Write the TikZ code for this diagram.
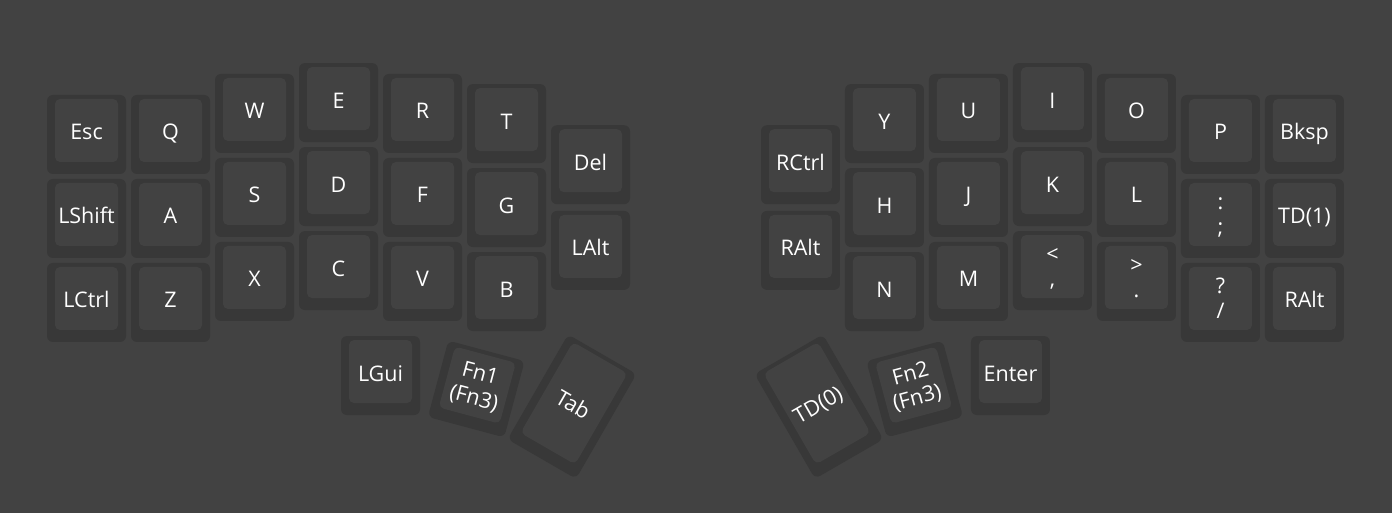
\documentclass[tikz,border=0pt]{standalone}
\usepackage{fontspec}
\setmainfont{Open Sans}
\usetikzlibrary{calc}

\definecolor{board}{HTML}{424242}
\definecolor{keyside}{HTML}{383838}
\definecolor{keytop}{HTML}{424242}

\begin{document}
\begin{tikzpicture}[x=84pt,y=-84pt,
  keybase/.style={fill=keyside,rounded corners=6pt,minimum width=79pt,minimum height=79pt,inner sep=0pt},
  keyface/.style={fill=keytop,rounded corners=5pt,minimum width=63pt,minimum height=63pt,inner sep=0pt,
    text=white,align=center,font=\fontsize{21.5}{25}\selectfont,text height=19pt,text depth=0pt},
  twoline/.style={text height=44pt,text depth=4pt},
  tallbase/.style={minimum height=121pt},
  tallface/.style={minimum height=105pt}]
\useasboundingbox[fill=board] (-0.53,-1.101) rectangle (16.042,5.006);
% left half
\node[keybase] (esc) at (0.5,0.5) {};
\node[keybase] (lshift) at (0.5,1.5) {};
\node[keybase] (lctrl) at (0.5,2.5) {};
\node[keybase] (q) at (1.5,0.5) {};
\node[keybase] (a) at (1.5,1.5) {};
\node[keybase] (z) at (1.5,2.5) {};
\node[keybase] (w) at (2.5,0.25) {};
\node[keybase] (s) at (2.5,1.25) {};
\node[keybase] (x) at (2.5,2.25) {};
\node[keybase] (e) at (3.5,0.12) {};
\node[keybase] (d) at (3.5,1.12) {};
\node[keybase] (c) at (3.5,2.12) {};
\node[keybase] (r) at (4.5,0.25) {};
\node[keybase] (f) at (4.5,1.25) {};
\node[keybase] (v) at (4.5,2.25) {};
\node[keybase] (t) at (5.5,0.37) {};
\node[keybase] (g) at (5.5,1.37) {};
\node[keybase] (b) at (5.5,2.37) {};
\node[keybase] (del) at (6.5,0.86) {};
\node[keybase] (lalt) at (6.5,1.88) {};
\node[keybase] (lgui) at (4,3.37) {};
\node[keybase,rotate=-15] (fn1) at (5.14,3.53) {};
\node[keybase,tallbase,rotate=-30] (tab) at (6.28,3.74) {};
\node[keyface] (esct) at ($(esc.center)!4pt!(esc.north)$) {Esc};
\node[keyface] (lshiftt) at ($(lshift.center)!4pt!(lshift.north)$) {LShift};
\node[keyface] (lctrlt) at ($(lctrl.center)!4pt!(lctrl.north)$) {LCtrl};
\node[keyface] (qt) at ($(q.center)!4pt!(q.north)$) {Q};
\node[keyface] (at) at ($(a.center)!4pt!(a.north)$) {A};
\node[keyface] (zt) at ($(z.center)!4pt!(z.north)$) {Z};
\node[keyface] (wt) at ($(w.center)!4pt!(w.north)$) {W};
\node[keyface] (st) at ($(s.center)!4pt!(s.north)$) {S};
\node[keyface] (xt) at ($(x.center)!4pt!(x.north)$) {X};
\node[keyface] (et) at ($(e.center)!4pt!(e.north)$) {E};
\node[keyface] (dt) at ($(d.center)!4pt!(d.north)$) {D};
\node[keyface] (ct) at ($(c.center)!4pt!(c.north)$) {C};
\node[keyface] (rt) at ($(r.center)!4pt!(r.north)$) {R};
\node[keyface] (ft) at ($(f.center)!4pt!(f.north)$) {F};
\node[keyface] (vt) at ($(v.center)!4pt!(v.north)$) {V};
\node[keyface] (tt) at ($(t.center)!4pt!(t.north)$) {T};
\node[keyface] (gt) at ($(g.center)!4pt!(g.north)$) {G};
\node[keyface] (bt) at ($(b.center)!4pt!(b.north)$) {B};
\node[keyface] (delt) at ($(del.center)!4pt!(del.north)$) {Del};
\node[keyface] (laltt) at ($(lalt.center)!4pt!(lalt.north)$) {LAlt};
\node[keyface] (lguit) at ($(lgui.center)!4pt!(lgui.north)$) {LGui};
\node[keyface,twoline,rotate=-15] (fn1t) at ($(fn1.center)!4pt!(fn1.north)$) {Fn1\\(Fn3)};
\node[keyface,tallface,rotate=-30] (tabt) at ($(tab.center)!4pt!(tab.north)$) {Tab};
% right half
\node[keybase] (rctrl) at (9,0.86) {};
\node[keybase] (ralt1) at (9,1.88) {};
\node[keybase] (y) at (10,0.37) {};
\node[keybase] (h) at (10,1.37) {};
\node[keybase] (n) at (10,2.37) {};
\node[keybase] (u) at (11,0.25) {};
\node[keybase] (j) at (11,1.25) {};
\node[keybase] (m) at (11,2.25) {};
\node[keybase] (i) at (12,0.12) {};
\node[keybase] (k) at (12,1.12) {};
\node[keybase] (comma) at (12,2.12) {};
\node[keybase] (o) at (13,0.25) {};
\node[keybase] (l) at (13,1.25) {};
\node[keybase] (period) at (13,2.25) {};
\node[keybase] (p) at (14,0.5) {};
\node[keybase] (semi) at (14,1.5) {};
\node[keybase] (slash) at (14,2.5) {};
\node[keybase] (bksp) at (15,0.5) {};
\node[keybase] (td1) at (15,1.5) {};
\node[keybase] (ralt2) at (15,2.5) {};
\node[keybase] (enter) at (11.5,3.37) {};
\node[keybase,rotate=15] (fn2) at (10.36,3.53) {};
\node[keybase,tallbase,rotate=30] (td0) at (9.22,3.74) {};
\node[keyface] (rctrlt) at ($(rctrl.center)!4pt!(rctrl.north)$) {RCtrl};
\node[keyface] (ralt1t) at ($(ralt1.center)!4pt!(ralt1.north)$) {RAlt};
\node[keyface] (yt) at ($(y.center)!4pt!(y.north)$) {Y};
\node[keyface] (ht) at ($(h.center)!4pt!(h.north)$) {H};
\node[keyface] (nt) at ($(n.center)!4pt!(n.north)$) {N};
\node[keyface] (ut) at ($(u.center)!4pt!(u.north)$) {U};
\node[keyface] (jt) at ($(j.center)!4pt!(j.north)$) {J};
\node[keyface] (mt) at ($(m.center)!4pt!(m.north)$) {M};
\node[keyface] (it) at ($(i.center)!4pt!(i.north)$) {I};
\node[keyface] (kt) at ($(k.center)!4pt!(k.north)$) {K};
\node[keyface,twoline] (commat) at ($(comma.center)!4pt!(comma.north)$) {<\\,};
\node[keyface] (ot) at ($(o.center)!4pt!(o.north)$) {O};
\node[keyface] (lt) at ($(l.center)!4pt!(l.north)$) {L};
\node[keyface,twoline] (periodt) at ($(period.center)!4pt!(period.north)$) {>\\.};
\node[keyface] (pt) at ($(p.center)!4pt!(p.north)$) {P};
\node[keyface,twoline] (semit) at ($(semi.center)!4pt!(semi.north)$) {:\\;};
\node[keyface,twoline] (slasht) at ($(slash.center)!4pt!(slash.north)$) {?\\/};
\node[keyface] (bkspt) at ($(bksp.center)!4pt!(bksp.north)$) {Bksp};
\node[keyface] (td1t) at ($(td1.center)!4pt!(td1.north)$) {TD(1)};
\node[keyface] (ralt2t) at ($(ralt2.center)!4pt!(ralt2.north)$) {RAlt};
\node[keyface] (entert) at ($(enter.center)!4pt!(enter.north)$) {Enter};
\node[keyface,twoline,rotate=15] (fn2t) at ($(fn2.center)!4pt!(fn2.north)$) {Fn2\\(Fn3)};
\node[keyface,tallface,rotate=30] (td0t) at ($(td0.center)!4pt!(td0.north)$) {TD(0)};
\end{tikzpicture}
\end{document}
